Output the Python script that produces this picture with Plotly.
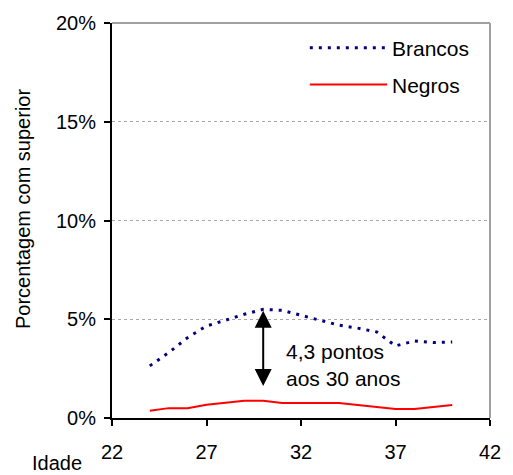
import plotly.graph_objects as go

idade = [24, 25, 26, 27, 28, 29, 30, 31, 32, 33, 34, 35, 36, 37, 38, 39, 40]
brancos = [2.64, 3.31, 4.07, 4.66, 4.95, 5.25, 5.50, 5.45, 5.20, 4.95, 4.70, 4.55, 4.36, 3.65, 3.90, 3.82, 3.85]
negros = [0.37, 0.50, 0.49, 0.67, 0.77, 0.87, 0.87, 0.76, 0.76, 0.76, 0.76, 0.66, 0.56, 0.45, 0.45, 0.56, 0.66]
x_ticks = [22, 27, 32, 37, 42]
y_ticks = [0, 5, 10, 15, 20]
y_ticklabels = ["0%", "5%", "10%", "15%", "20%"]

FONT = "Liberation Sans, Arial, sans-serif"
NAVY = "#000080"
RED = "#FF0000"

fig = go.Figure()
fig.add_trace(go.Scatter(x=idade, y=brancos, mode="lines", name="Brancos",
                         line=dict(color=NAVY, width=3, dash="3px,6px"), showlegend=False))
fig.add_trace(go.Scatter(x=idade, y=negros, mode="lines", name="Negros",
                         line=dict(color=RED, width=2), showlegend=False))

# arrow showing the gap at 30 years
fig.add_annotation(x=30, y=5.43, ax=30, ay=1.55, xref="x", yref="y", axref="x", ayref="y",
                   text="", showarrow=True, arrowhead=2, startarrowhead=2,
                   arrowside="end+start", arrowsize=1.7, startarrowsize=1.7,
                   arrowwidth=2, arrowcolor="black", standoff=0, startstandoff=0)
fig.add_annotation(x=31.1, y=2.66, xref="x", yref="y", text="4,3 pontos<br>aos 30 anos",
                   showarrow=False, xanchor="left", yanchor="middle", align="left",
                   font=dict(family=FONT, size=21, color="black"))

# manual legend
lx0, lx1 = 314, 393
def px_to_paper_x(px):
    return (px - 112) / 386
def py_to_paper_y(py):
    return (419 - py) / 399

fig.add_shape(type="line", xref="paper", yref="paper",
              x0=px_to_paper_x(lx0), x1=px_to_paper_x(lx1),
              y0=py_to_paper_y(45), y1=py_to_paper_y(45),
              line=dict(color=NAVY, width=3, dash="3px,6px"))
fig.add_shape(type="line", xref="paper", yref="paper",
              x0=px_to_paper_x(lx0), x1=px_to_paper_x(lx1),
              y0=py_to_paper_y(82), y1=py_to_paper_y(82),
              line=dict(color=RED, width=2))
fig.add_annotation(x=px_to_paper_x(396), y=py_to_paper_y(46), xref="paper", yref="paper",
                   text="Brancos", showarrow=False, xanchor="left", yanchor="middle",
                   font=dict(family=FONT, size=21, color="black"))
fig.add_annotation(x=px_to_paper_x(396), y=py_to_paper_y(83), xref="paper", yref="paper",
                   text="Negros", showarrow=False, xanchor="left", yanchor="middle",
                   font=dict(family=FONT, size=21, color="black"))

# top and right gray borders
fig.add_shape(type="line", xref="paper", yref="paper", x0=0, x1=1, y0=1, y1=1,
              line=dict(color="#a0a0a0", width=2))
fig.add_shape(type="line", xref="paper", yref="paper", x0=1, x1=1, y0=0, y1=1,
              line=dict(color="#a0a0a0", width=2))

# axis titles
fig.add_annotation(x=px_to_paper_x(21), y=py_to_paper_y(208), xref="paper", yref="paper",
                   text="Porcentagem com superior", textangle=-90, showarrow=False,
                   xanchor="center", yanchor="middle",
                   font=dict(family=FONT, size=20, color="black"))
fig.add_annotation(x=px_to_paper_x(56), y=py_to_paper_y(464), xref="paper", yref="paper",
                   text="Idade", showarrow=False, xanchor="center", yanchor="middle",
                   font=dict(family=FONT, size=20, color="black"))

fig.update_layout(
    width=513, height=475,
    margin=dict(l=112, r=15, t=20, b=56),
    plot_bgcolor="white", paper_bgcolor="white",
    font=dict(family=FONT, size=20, color="black"),
)
fig.update_xaxes(range=[22, 42], tickvals=x_ticks, showgrid=False, zeroline=False,
                 showline=True, linecolor="black", linewidth=2,
                 ticks="outside", ticklen=6, tickwidth=2, tickcolor="black",
                 ticklabelstandoff=9)
fig.update_yaxes(range=[0, 20], tickvals=y_ticks, ticktext=y_ticklabels,
                 showgrid=True, gridcolor="#a8a8a8", gridwidth=1, griddash="dot",
                 zeroline=False, showline=True, linecolor="black", linewidth=2,
                 ticks="outside", ticklen=6, tickwidth=2, tickcolor="black",
                 ticklabelstandoff=4)

fig.write_html("out.html")
